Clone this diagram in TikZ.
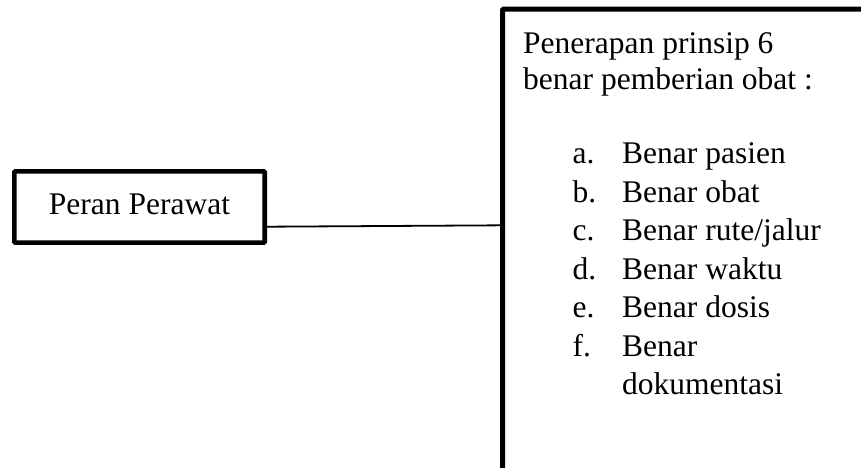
\documentclass[tikz,border=0pt]{standalone}
\usepackage{fontspec}
\setmainfont{Liberation Serif}
\begin{document}
\begin{tikzpicture}[x=1pt,y=-1pt,
  txt/.style={font=\fontsize{31.5}{36}\selectfont, inner sep=0pt, anchor=base west},
  frame/.style={draw=black, line width=4.6pt, rounded corners=1pt, fill=white},
  link/.style={draw=black, line width=1.8pt}]
  \useasboundingbox (0,0) rectangle (861,467);
  \clip (0,0) rectangle (861,467);
  \fill[white] (0,0) rectangle (861,467);

  % left box
  \node[frame, minimum width=250.4pt, minimum height=71.2pt,
        text height=14pt, text depth=0pt, inner sep=0pt,
        font=\fontsize{31.5}{36}\selectfont] (peran) at (139.5,207) {Peran Perawat};

  % right box (runs past the right and bottom edges)
  \node[frame, line width=5pt, outer sep=0pt, anchor=north west,
        minimum width=600pt, minimum height=600pt] (prinsip) at (502.5,9.2) {};

  % connector
  \draw[link] ([yshift=-19.7pt]peran.east) -- (prinsip.west |- {0,225.3});

  % heading
  \node[txt] (h1) at (523,53) {Penerapan prinsip 6};
  \node[txt] (h2) at (523,89) {benar pemberian obat :};

  % list
  \node[txt] (la) at (572.5,163.5) {a.};
  \node[txt] (ia) at (622,163.5)   {Benar pasien};
  \node[txt] (lb) at (572.5,202)   {b.};
  \node[txt] (ib) at (622,202)     {Benar obat};
  \node[txt] (lc) at (572.5,240.5) {c.};
  \node[txt] (ic) at (622,240.5)   {Benar rute/jalur};
  \node[txt] (ld) at (572.5,279)   {d.};
  \node[txt] (id) at (622,279)     {Benar waktu};
  \node[txt] (le) at (572.5,317.5) {e.};
  \node[txt] (ie) at (622,317.5)   {Benar dosis};
  \node[txt] (lf) at (572.5,356)   {f.};
  \node[txt] (if) at (622,356)     {Benar};
  \node[txt] (ig) at (622,394.5)   {dokumentasi};
\end{tikzpicture}
\end{document}
